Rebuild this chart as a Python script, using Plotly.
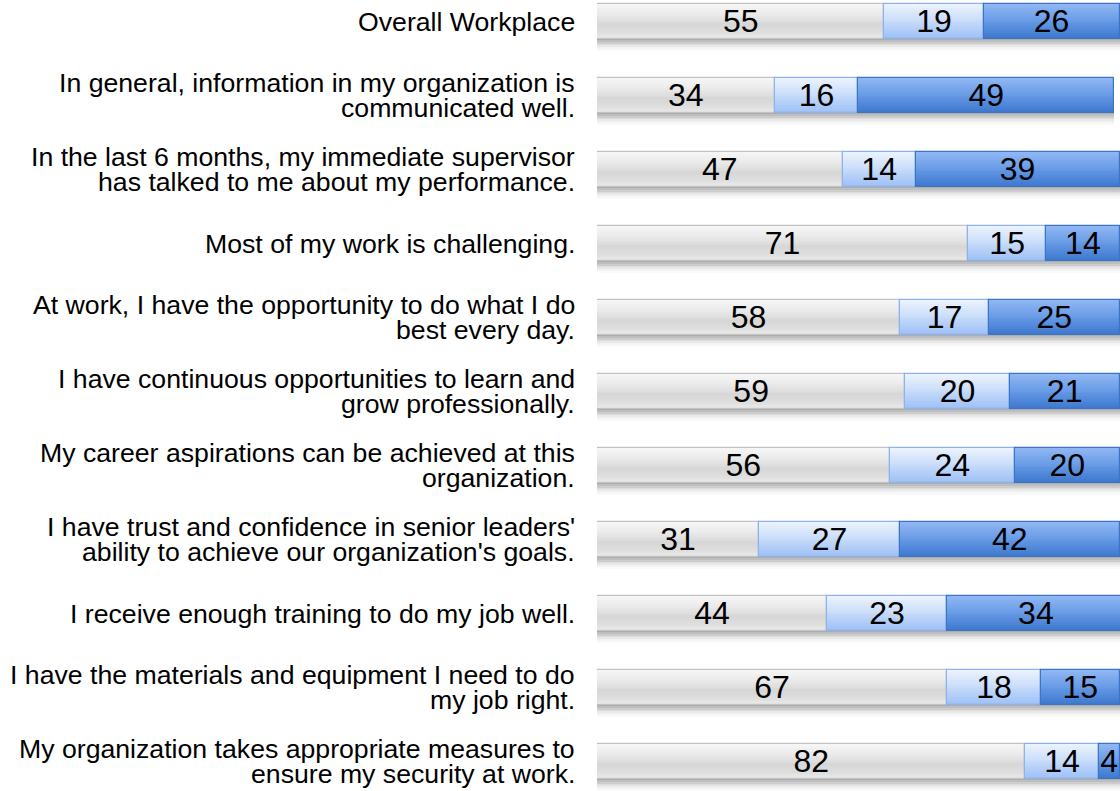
import plotly.graph_objects as go

# ---------------- data ----------------
categories = [
    "Overall Workplace",
    "In general, information in my organization is<br>communicated well.",
    "In the last 6 months, my immediate supervisor<br>has talked to me about my performance.",
    "Most of my work is challenging.",
    "At work, I have the opportunity to do what I do<br>best every day.",
    "I have continuous opportunities to learn and<br>grow professionally.",
    "My career aspirations can be achieved at this<br>organization.",
    "I have trust and confidence in senior leaders'<br>ability to achieve our organization's goals.",
    "I receive enough training to do my job well.",
    "I have the materials and equipment I need to do<br>my job right.",
    "My organization takes appropriate measures to<br>ensure my security at work.",
]
favorable = [55, 34, 47, 71, 58, 59, 56, 31, 44, 67, 82]
neutral = [19, 16, 14, 15, 17, 20, 24, 27, 23, 18, 14]
unfavorable = [26, 49, 39, 14, 25, 21, 20, 42, 34, 15, 4]

# ---------------- styling ----------------
FONT = "Liberation Sans, Arial, sans-serif"
BAR_W = 0.48
N_STRIPS = 18

gray_stops = [(0.0, (246, 246, 246)), (0.25, (236, 236, 236)), (0.6, (214, 214, 214)),
              (0.85, (224, 224, 224)), (1.0, (238, 238, 238))]
light_stops = [(0.0, (236, 243, 253)), (0.4, (206, 224, 251)), (1.0, (156, 191, 245))]
dark_stops = [(0.0, (145, 184, 243)), (0.45, (106, 156, 231)), (1.0, (60, 120, 206))]

borders = ["#c2c2c2", "#8db2ee", "#3c74c6"]


def grad(stops, t):
    for (p0, c0), (p1, c1) in zip(stops[:-1], stops[1:]):
        if p0 <= t <= p1:
            f = (t - p0) / (p1 - p0) if p1 > p0 else 0
            c = [round(a + (b - a) * f) for a, b in zip(c0, c1)]
            return "rgb(%d,%d,%d)" % tuple(c)
    return "rgb(%d,%d,%d)" % stops[-1][1]


ylab = list(range(len(categories)))
base_fav = [0] * len(favorable)
base_neu = list(favorable)
base_unf = [a + b for a, b in zip(favorable, neutral)]
totals = [a + b + c for a, b, c in zip(favorable, neutral, unfavorable)]

series = [
    (favorable, base_fav, gray_stops),
    (neutral, base_neu, light_stops),
    (unfavorable, base_unf, dark_stops),
]

fig = go.Figure()

# shadow beneath each bar
n_sh = 7
sh_step = (12 / 74) / n_sh
for j in range(n_sh):
    a = 0.42 * (1 - j / n_sh) ** 1.5
    fig.add_trace(go.Bar(
        x=totals, y=ylab, base=[0] * len(totals), orientation="h",
        offset=BAR_W / 2 - 0.01 + j * sh_step, width=sh_step * 1.05,
        marker=dict(color="rgba(60,60,60,%.3f)" % a, line=dict(width=0)),
        hoverinfo="skip", showlegend=False,
    ))

# gradient strips
step = BAR_W / N_STRIPS
for vals, bases, stops in series:
    for k in range(N_STRIPS):
        t = (k + 0.5) / N_STRIPS
        w = step * 1.25 if k < N_STRIPS - 1 else step
        fig.add_trace(go.Bar(
            x=vals, y=ylab, base=bases, orientation="h",
            offset=-BAR_W / 2 + k * step, width=w,
            marker=dict(color=grad(stops, t), line=dict(width=0)),
            hoverinfo="skip", showlegend=False,
        ))

# outlines
for (vals, bases, _), bc in zip(series, borders):
    fig.add_trace(go.Bar(
        x=vals, y=ylab, base=bases, orientation="h",
        offset=-BAR_W / 2, width=BAR_W,
        marker=dict(color="rgba(0,0,0,0)", line=dict(color=bc, width=1.2)),
        hoverinfo="skip", showlegend=False,
    ))

# value labels
tx, ty, tt = [], [], []
for vals, bases, _ in series:
    for i, (v, b) in enumerate(zip(vals, bases)):
        tx.append(b + v / 2)
        ty.append(i + 0.035)
        tt.append(str(v))
fig.add_trace(go.Scatter(
    x=tx, y=ty, text=tt, mode="text", textposition="middle center",
    textfont=dict(family=FONT, size=32, color="#000000"),
    hoverinfo="skip", showlegend=False, cliponaxis=False,
))

# category labels
annotations = []
LINE = 25
for i, cat in enumerate(categories):
    lines = cat.split("<br>")
    n = len(lines)
    for j, line in enumerate(lines):
        annotations.append(dict(
            x=0, xref="paper", xanchor="right", xshift=-20,
            y=i, yref="y", yanchor="middle", yshift=((n - 1) / 2 - j) * LINE,
            text=line, showarrow=False, align="right",
            font=dict(family=FONT, size=26.67, color="#000000"),
        ))

top = -21.5 / 74
bottom = (791 - 21.5) / 74

fig.update_layout(
    width=1120, height=791,
    margin=dict(l=597, r=0, t=0, b=0),
    paper_bgcolor="white", plot_bgcolor="white",
    barmode="overlay",
    bargap=0,
    annotations=annotations,
    xaxis=dict(range=[0, 523 / 5.225], showgrid=False, zeroline=False,
               showticklabels=False, showline=False, ticks=""),
    yaxis=dict(range=[bottom, top], showgrid=False, zeroline=False,
               showticklabels=False, showline=False, ticks=""),
    showlegend=False,
)

fig.write_html("out.html")
